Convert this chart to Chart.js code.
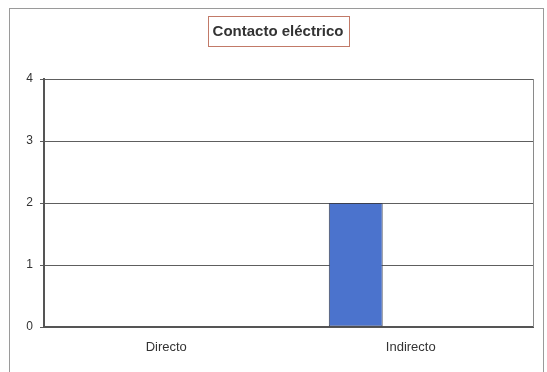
<!DOCTYPE html>
<html lang="es">
<head>
    <meta charset="UTF-8">
    <title>Contacto eléctrico</title>
    <script src="https://cdn.jsdelivr.net/npm/chart.js"></script>
</head>
<style>
    body { margin: 0; width: 547px; height: 372px; overflow: hidden; background: #fff; position: relative; }
    #frame { position: absolute; left: 9px; top: 8px; width: 533px; height: 400px; border: 1px solid #9a9a9a; }
    #wrap { position: absolute; left: 0; top: 0; width: 547px; height: 372px; }
</style>
<body>
    <div id="frame"></div>
    <div id="wrap"><canvas id="contactChart" width="547" height="372"></canvas></div>

    <script>
        const chartTitle = 'Contacto eléctrico';
        const categories = ['Directo', 'Indirecto'];
        const casos = [0, 2];
        const yTicks = [0, 1, 2, 3, 4];

        // title text inside a thin framed box
        const boxedTitle = {
            id: 'boxedTitle',
            afterDraw(chart) {
                const ctx = chart.ctx;
                ctx.save();
                ctx.font = 'bold 15px Arial, "Liberation Sans"';
                const w = ctx.measureText(chartTitle).width;
                const cx = 278;
                ctx.fillStyle = '#333';
                ctx.textAlign = 'center';
                ctx.textBaseline = 'middle';
                ctx.fillText(chartTitle, cx, 31.5);
                ctx.strokeStyle = '#c27a68';
                ctx.lineWidth = 1;
                ctx.strokeRect(Math.round(cx - w / 2 - 5) + 0.5, 16.5, Math.round(w + 10), 30);
                ctx.restore();
            }
        };

        // right edge of the plot area
        const plotBorder = {
            id: 'plotBorder',
            afterDraw(chart) {
                const a = chart.chartArea;
                const ctx = chart.ctx;
                ctx.save();
                ctx.strokeStyle = '#8a8a8a';
                ctx.lineWidth = 1;
                ctx.beginPath();
                ctx.moveTo(Math.round(a.right) + 0.5, a.top);
                ctx.lineTo(Math.round(a.right) + 0.5, a.bottom);
                ctx.stroke();
                ctx.restore();
            }
        };

        const ctx = document.getElementById('contactChart').getContext('2d');
        new Chart(ctx, {
            type: 'bar',
            data: {
                labels: categories,
                datasets: [{
                    label: 'Casos',
                    data: casos,
                    backgroundColor: '#4b73cd',
                    borderColor: '#3a3f50',
                    borderWidth: 1,
                    borderSkipped: false
                }, {
                    label: '',
                    data: [null, null]
                }]
            },
            options: {
                responsive: false,
                animation: false,
                datasets: {
                    bar: { categoryPercentage: 0.9, barPercentage: 0.49 }
                },
                layout: { padding: { left: 0, right: 14, top: 79, bottom: 0 } },
                plugins: {
                    legend: { display: false },
                    tooltip: { enabled: false },
                    title: { display: false }
                },
                scales: {
                    x: {
                        grid: { display: false, drawTicks: false },
                        border: { color: '#555', width: 2 },
                        ticks: { color: '#333', padding: 13, font: { family: 'Arial, "Liberation Sans"', size: 13 } },
                        afterFit: s => { s.height = 45; }
                    },
                    y: {
                        min: 0,
                        max: 4,
                        afterBuildTicks: s => { s.ticks = yTicks.map(v => ({ value: v })); },
                        grid: { color: '#5e5e5e', lineWidth: 1, tickLength: 4 },
                        border: { color: '#555', width: 2 },
                        ticks: { color: '#333', padding: 7, font: { family: 'Arial, "Liberation Sans"', size: 12 } },
                        afterFit: s => { s.width = 44; }
                    }
                }
            },
            plugins: [boxedTitle, plotBorder]
        });
    </script>
</body>
</html>
